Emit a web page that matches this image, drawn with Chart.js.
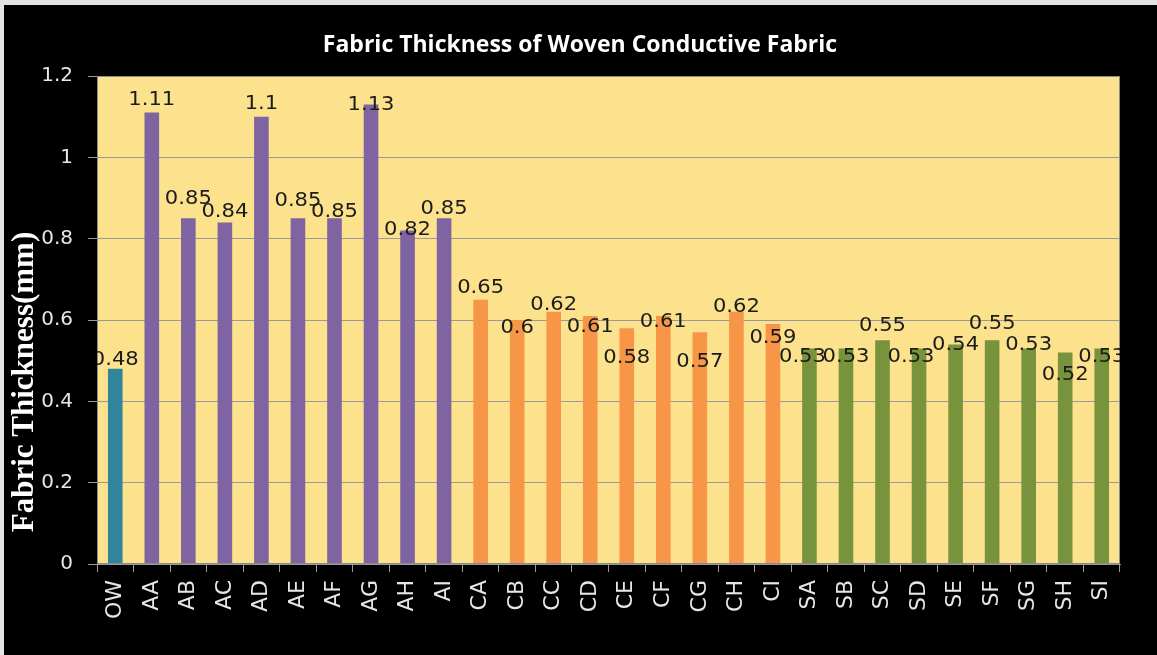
<!DOCTYPE html>
<html>
<head>
<meta charset="utf-8">
<script src="https://cdn.jsdelivr.net/npm/chart.js@4.4.1/dist/chart.umd.min.js"></script>
<style>
  html, body { margin: 0; padding: 0; background: #000; }
  #wrap { width: 1157px; height: 655px; }
</style>
</head>
<body>
<div id="wrap"><canvas id="thicknessChart" width="1157" height="655"></canvas></div>
<script>
const categories = ['OW', 'AA', 'AB', 'AC', 'AD', 'AE', 'AF', 'AG', 'AH', 'AI',
  'CA', 'CB', 'CC', 'CD', 'CE', 'CF', 'CG', 'CH', 'CI',
  'SA', 'SB', 'SC', 'SD', 'SE', 'SF', 'SG', 'SH', 'SI'];
const thickness = [0.48, 1.11, 0.85, 0.84, 1.1, 0.85, 0.85, 1.13, 0.82, 0.85,
  0.65, 0.6, 0.62, 0.61, 0.58, 0.61, 0.57, 0.62, 0.59,
  0.53, 0.53, 0.55, 0.53, 0.54, 0.55, 0.53, 0.52, 0.53];
const yTicks = [0, 0.2, 0.4, 0.6, 0.8, 1, 1.2];

// label nudges as placed in the original (px, relative to bar top / centre)
const labelDy = [-9, -13, -19, -10, -13, -17, -6, 1, 0, -9,
  -12, 8, -7, 11, 30, 6, 30, -5, 14,
  9, 9, -14, 9, 1, -16, -3, 23, 9];
const labelDx = [0, 0, 0, 0, 0, 0, 0, 0, 0, 0,
  0, 0, 0, 0, 0, 0, 0, 0, 0,
  -7, 0, 0, -8, 0, 0, 0, 0, 0];

const groupColors = { OW: '#31849B', A: '#8064A2', C: '#F79646', S: '#77933C' };
const barColors = categories.map(c => groupColors[c] || groupColors[c[0]]);

const PLOT_BG = '#FDE28D';
const GRID = '#9a9a9a';
const TICK_TEXT = '#e6e6e6';

const frame = {
  id: 'frame',
  beforeDraw(chart) {
    const { ctx, width, height, chartArea: a } = chart;
    ctx.save();
    ctx.fillStyle = '#000';
    ctx.fillRect(0, 0, width, height);
    ctx.fillStyle = '#e4e4e4';
    ctx.fillRect(0, 0, width, 5);
    ctx.fillRect(0, 0, 4, height);
    ctx.fillStyle = PLOT_BG;
    ctx.fillRect(a.left, a.top, a.right - a.left, a.bottom - a.top);
    ctx.restore();
  },
  afterDatasetsDraw(chart) {
    const { ctx, chartArea: a } = chart;
    ctx.save();
    ctx.strokeStyle = '#8a8a8a';
    ctx.lineWidth = 1;
    ctx.strokeRect(a.left + 0.5, a.top + 0.5, a.right - a.left - 1, a.bottom - a.top - 1);

    // value labels, clipped to the plot like the original
    ctx.beginPath();
    ctx.rect(a.left, a.top, a.right - a.left, a.bottom - a.top);
    ctx.clip();
    ctx.fillStyle = '#1c1c1c';
    ctx.font = '19px "DejaVu Sans"';
    ctx.textAlign = 'center';
    ctx.textBaseline = 'middle';
    chart.getDatasetMeta(0).data.forEach((bar, i) => {
      ctx.save();
      ctx.translate(bar.x + labelDx[i], bar.y + labelDy[i]);
      ctx.scale(1.11, 1);
      ctx.fillText(String(thickness[i]), 0, 0);
      ctx.restore();
    });
    ctx.restore();
  },
  afterDraw(chart) {
    const { ctx } = chart;
    ctx.save();
    ctx.fillStyle = '#fff';
    ctx.textAlign = 'center';
    ctx.textBaseline = 'middle';
    ctx.font = 'bold 23px "Open Sans"';
    ctx.fillText('Fabric Thickness of Woven Conductive Fabric', 580, 45);

    ctx.translate(25, 382);
    ctx.rotate(-Math.PI / 2);
    ctx.font = 'bold 31px "Liberation Serif"';
    ctx.fillText('Fabric Thickness(mm)', 0, 0);
    ctx.restore();
  },
};

new Chart(document.getElementById('thicknessChart'), {
  type: 'bar',
  data: {
    labels: categories,
    datasets: [{
      label: 'Fabric Thickness',
      data: thickness,
      backgroundColor: barColors,
      borderWidth: 0,
      barPercentage: 0.4,
      categoryPercentage: 1,
    }],
  },
  options: {
    responsive: false,
    animation: false,
    layout: { padding: { top: 76, right: 37, left: 0, bottom: 0 } },
    plugins: {
      legend: { display: false },
      title: { display: false },
      tooltip: { enabled: false },
    },
    scales: {
      x: {
        afterFit: scale => { scale.height = 91; },
        grid: { drawOnChartArea: false, drawTicks: true, tickLength: 8, offset: true, color: GRID },
        border: { color: GRID },
        ticks: {
          color: TICK_TEXT,
          font: { family: '"DejaVu Sans"', size: 22 },
          minRotation: 90,
          maxRotation: 90,
          autoSkip: false,
          padding: 8,
        },
      },
      y: {
        min: 0,
        max: 1.2,
        afterFit: scale => { scale.width = 97; },
        afterBuildTicks: scale => { scale.ticks = yTicks.map(v => ({ value: v })); },
        grid: { color: GRID, tickLength: 9, lineWidth: 1 },
        border: { color: GRID },
        ticks: {
          color: TICK_TEXT,
          font: { family: '"DejaVu Sans"', size: 20 },
          padding: 15,
          callback: v => String(v),
        },
      },
    },
  },
  plugins: [frame],
});
</script>
</body>
</html>
